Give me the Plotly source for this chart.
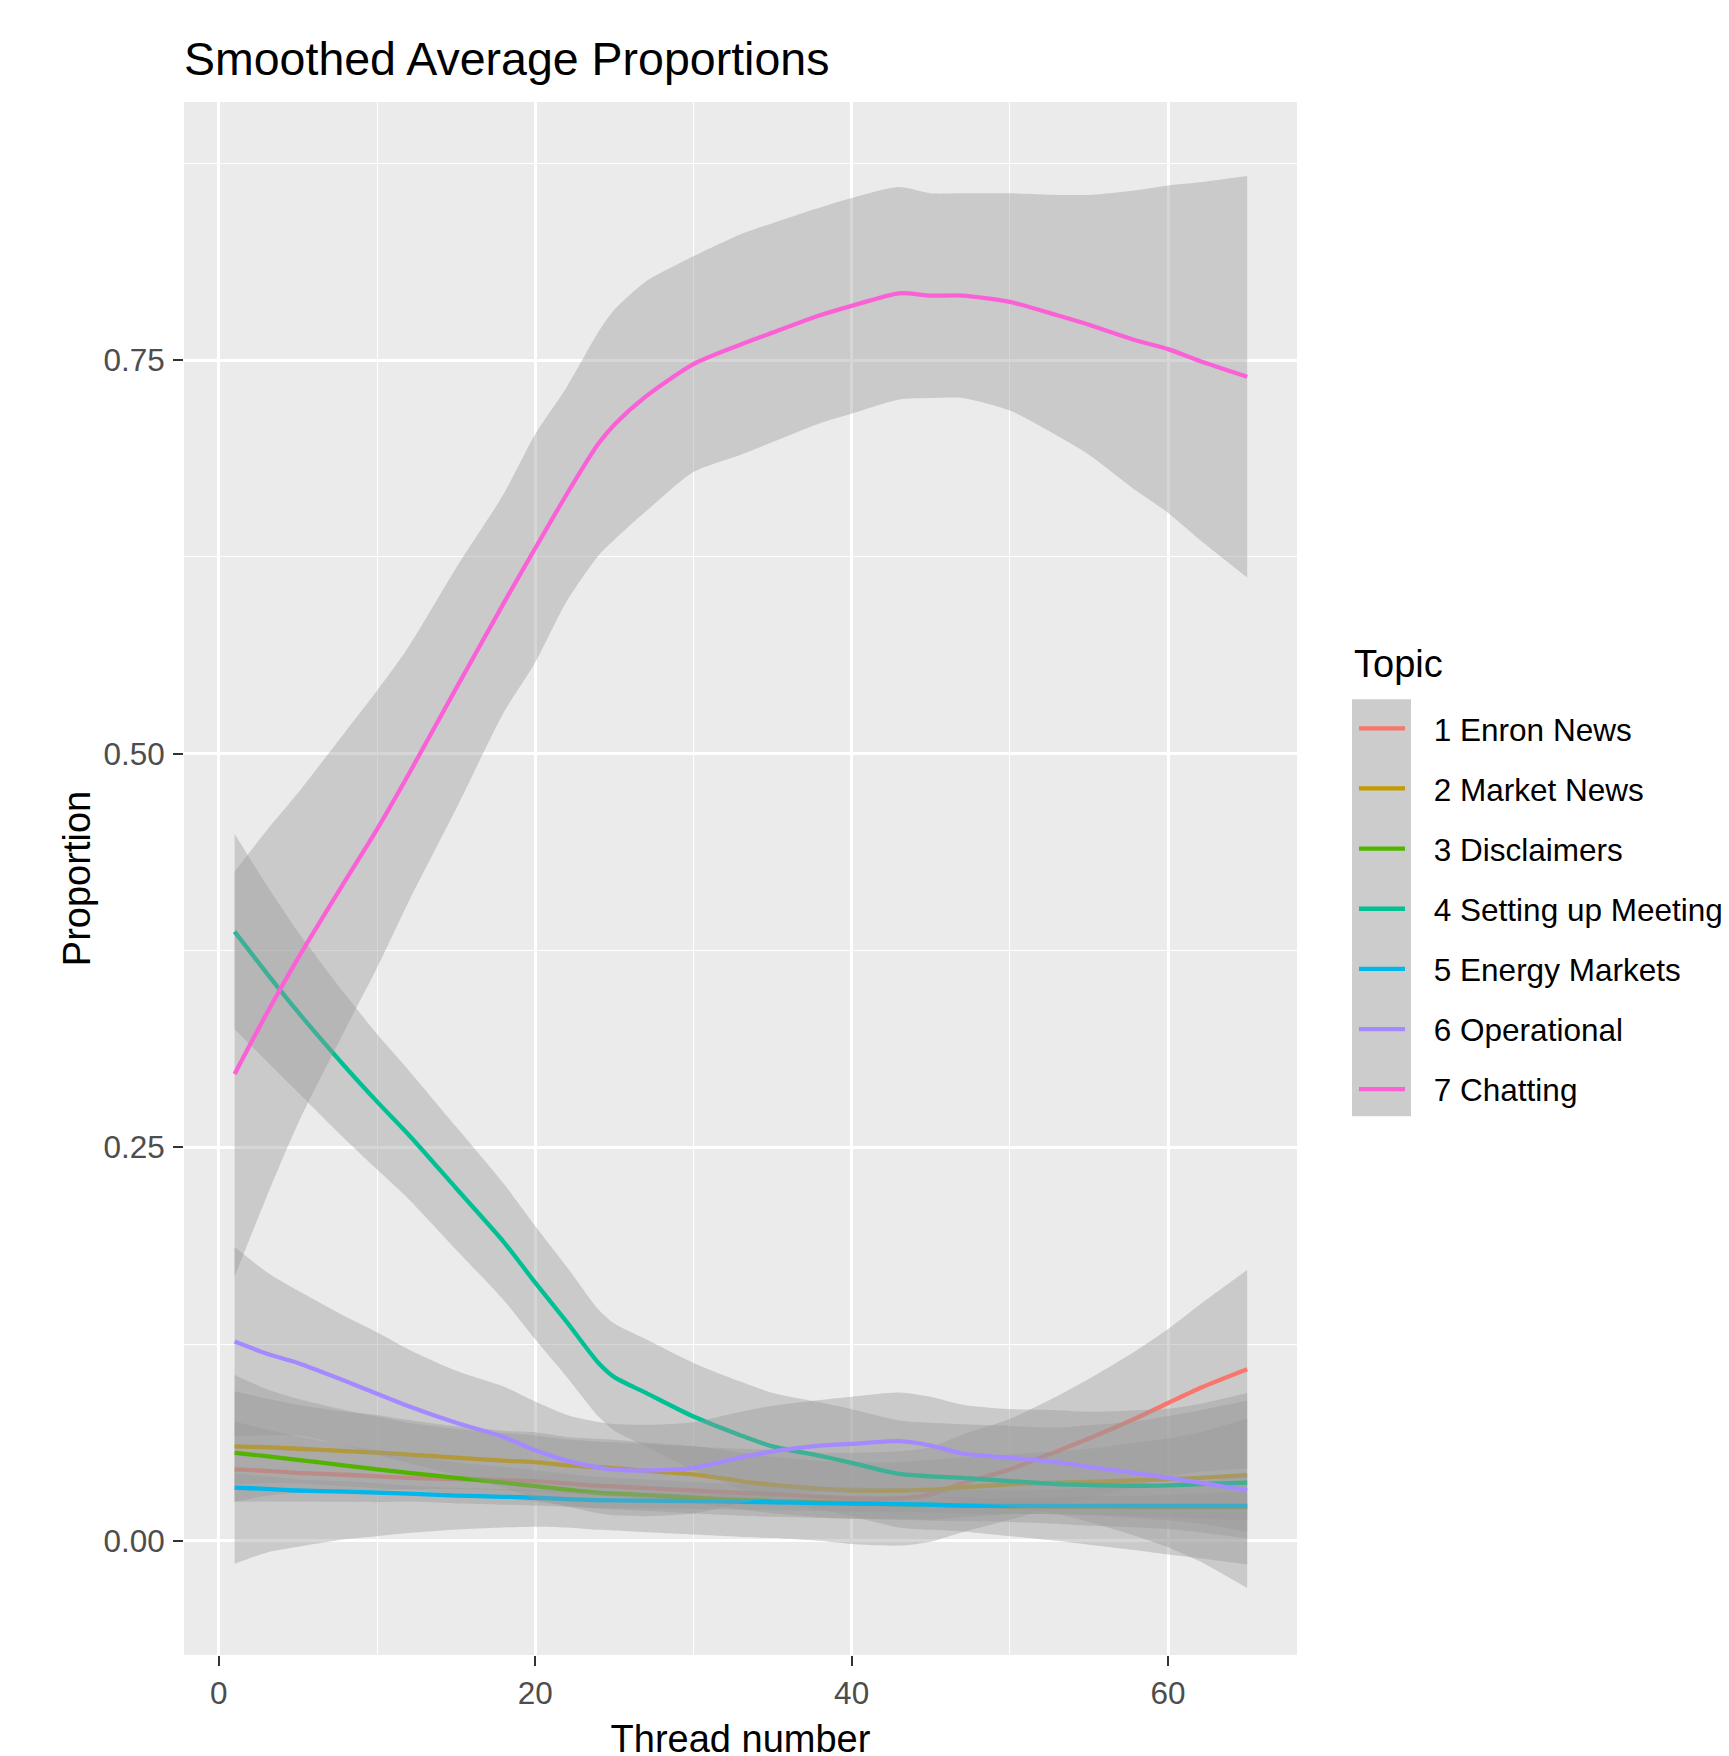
import plotly.graph_objects as go

# ---- data ----
thread = [1, 3, 5, 8, 10, 12, 15, 18, 20, 22, 24, 25, 27, 30, 33, 35, 38, 40,
          43, 45, 47, 50, 53, 55, 58, 60, 62, 65]

topics = ["1 Enron News", "2 Market News", "3 Disclaimers", "4 Setting up Meetings",
          "5 Energy Markets", "6 Operational", "7 Chatting"]
colors = ["#F8766D", "#C49A00", "#53B400", "#00C094", "#00B6EB", "#A58AFF", "#FB61D7"]

enron_fit = [0.0454, 0.0445, 0.0432, 0.042, 0.041, 0.040, 0.0392, 0.0385, 0.038, 0.0365,
             0.035, 0.0346, 0.0335, 0.032, 0.0305, 0.0298, 0.028, 0.027, 0.027, 0.0295,
             0.0365, 0.0454, 0.057, 0.065, 0.078, 0.0876, 0.097, 0.109]
enron_se = [0.060, 0.052, 0.047, 0.041, 0.038, 0.035, 0.032, 0.030, 0.029, 0.028,
            0.028, 0.028, 0.028, 0.028, 0.028, 0.028, 0.028, 0.029, 0.030, 0.030,
            0.031, 0.032, 0.035, 0.038, 0.043, 0.047, 0.053, 0.063]

market_fit = [0.060, 0.0595, 0.0585, 0.057, 0.056, 0.0548, 0.0528, 0.051, 0.050, 0.048,
              0.0468, 0.0462, 0.0445, 0.0422, 0.038, 0.0355, 0.033, 0.032, 0.032, 0.0325,
              0.034, 0.0359, 0.037, 0.0375, 0.0385, 0.039, 0.040, 0.0418]
market_se = [0.035, 0.031, 0.028, 0.025, 0.024, 0.022, 0.020, 0.019, 0.019, 0.018,
             0.018, 0.018, 0.018, 0.018, 0.018, 0.018, 0.018, 0.018, 0.018, 0.019,
             0.019, 0.019, 0.020, 0.021, 0.024, 0.026, 0.029, 0.036]

disclaim_fit = [0.0559, 0.0538, 0.0515, 0.0478, 0.0454, 0.0432, 0.040, 0.037, 0.0348, 0.0325,
                0.0305, 0.030, 0.029, 0.0274, 0.026, 0.0253, 0.0245, 0.024, 0.0232, 0.0228,
                0.0224, 0.022, 0.0218, 0.0216, 0.0215, 0.0215, 0.0215, 0.0215]
disclaim_se = [0.020, 0.017, 0.015, 0.013, 0.012, 0.011, 0.010, 0.010, 0.010, 0.010,
               0.010, 0.010, 0.010, 0.010, 0.010, 0.010, 0.010, 0.010, 0.010, 0.010,
               0.010, 0.010, 0.011, 0.012, 0.013, 0.014, 0.016, 0.020]

meetings_fit = [0.387, 0.361, 0.336, 0.301, 0.279, 0.258, 0.224, 0.190, 0.164, 0.139,
                0.113, 0.104, 0.094, 0.079, 0.067, 0.060, 0.054, 0.0496, 0.0425, 0.041,
                0.040, 0.038, 0.036, 0.0355, 0.035, 0.0353, 0.036, 0.037]
meetings_se = [0.062, 0.056, 0.051, 0.046, 0.043, 0.041, 0.039, 0.037, 0.036, 0.035,
               0.034, 0.034, 0.034, 0.034, 0.034, 0.034, 0.034, 0.034, 0.034, 0.034,
               0.034, 0.035, 0.036, 0.038, 0.041, 0.044, 0.047, 0.052]

energy_fit = [0.0338, 0.033, 0.032, 0.0313, 0.0306, 0.030, 0.0288, 0.028, 0.0274, 0.0265,
              0.0258, 0.0257, 0.0255, 0.0253, 0.0248, 0.0245, 0.024, 0.0236, 0.0233, 0.023,
              0.0224, 0.0222, 0.0222, 0.0222, 0.0222, 0.0222, 0.0222, 0.0222]
energy_se = [0.009, 0.008, 0.007, 0.0065, 0.006, 0.005, 0.005, 0.005, 0.005, 0.005,
             0.005, 0.005, 0.005, 0.005, 0.005, 0.005, 0.005, 0.005, 0.005, 0.005,
             0.005, 0.005, 0.0055, 0.006, 0.0065, 0.007, 0.008, 0.009]

operational_fit = [0.1266, 0.119, 0.113, 0.1015, 0.0935, 0.0855, 0.075, 0.066, 0.0575, 0.051,
                   0.0465, 0.0452, 0.0447, 0.0464, 0.053, 0.0568, 0.0605, 0.0616, 0.0633, 0.0605,
                   0.0555, 0.0527, 0.050, 0.047, 0.043, 0.040, 0.037, 0.032]
operational_se = [0.060, 0.052, 0.046, 0.041, 0.039, 0.036, 0.033, 0.032, 0.031, 0.029,
                  0.029, 0.029, 0.029, 0.029, 0.029, 0.029, 0.029, 0.030, 0.031, 0.031,
                  0.031, 0.031, 0.033, 0.035, 0.040, 0.044, 0.050, 0.062]

chatting_fit = [0.2965, 0.3345, 0.370, 0.4195, 0.452, 0.487, 0.5415, 0.5955, 0.6305, 0.665,
                0.697, 0.709, 0.727, 0.7475, 0.760, 0.7675, 0.7785, 0.7845, 0.7925, 0.791,
                0.791, 0.787, 0.7785, 0.7725, 0.7625, 0.757, 0.7495, 0.7395]
chatting_se = [0.1285, 0.1165, 0.105, 0.0945, 0.088, 0.081, 0.0765, 0.0695, 0.0725, 0.068,
               0.071, 0.073, 0.073, 0.0685, 0.070, 0.0695, 0.0685, 0.0685, 0.0675, 0.065,
               0.065, 0.069, 0.0765, 0.0825, 0.0955, 0.104, 0.1135, 0.1275]

fits = [enron_fit, market_fit, disclaim_fit, meetings_fit, energy_fit, operational_fit, chatting_fit]
ses = [enron_se, market_se, disclaim_se, meetings_se, energy_se, operational_se, chatting_se]

x_ticks = [0, 20, 40, 60]
y_ticks = [0.0, 0.25, 0.50, 0.75]

# ---- figure ----
FONT = "Liberation Sans, Arial, sans-serif"
RIBBON = "rgba(153,153,153,0.4)"
SMOOTH = 0.7

fig = go.Figure()
for name, col, fit, se in zip(topics, colors, fits, ses):
    lo = [f - s for f, s in zip(fit, se)]
    hi = [f + s for f, s in zip(fit, se)]
    fig.add_trace(go.Scatter(x=thread, y=lo, mode="lines",
                             line=dict(width=0, shape="spline", smoothing=SMOOTH),
                             showlegend=False, legendgroup=name, hoverinfo="skip"))
    fig.add_trace(go.Scatter(x=thread, y=hi, mode="lines",
                             line=dict(width=0, shape="spline", smoothing=SMOOTH),
                             fill="tonexty", fillcolor=RIBBON,
                             showlegend=False, legendgroup=name, hoverinfo="skip"))
    fig.add_trace(go.Scatter(x=thread, y=fit, mode="lines",
                             name="\u00a0\u00a0\u2009" + name, legendgroup=name,
                             line=dict(color=col, width=4.3, shape="spline", smoothing=SMOOTH)))

# page body has an 8px default margin: layout below is in figure pixels
W, H = 1729, 1756
ML, MR, MT, MB = 176, 440, 93.5, 109
pw, ph = W - ML - MR, H - MT - MB


def px_x(p):
    return (p - ML) / pw


def px_y(p):
    return (H - MB - p) / ph


fig.update_layout(
    width=W, height=H,
    margin=dict(l=ML, r=MR, t=MT, b=MB, autoexpand=False),
    paper_bgcolor="white",
    plot_bgcolor="#EBEBEB",
    font=dict(family=FONT, color="black"),
    title=dict(text="Smoothed Average Proportions", x=0, xref="paper", xanchor="left",
               y=1 - 51 / H, yref="container", yanchor="middle",
               font=dict(size=46.5, color="black", family=FONT)),
    xaxis=dict(range=[-2.2, 68.15], tickvals=x_ticks, ticks="outside", ticklen=10, tickwidth=2,
               tickcolor="#333333", tickfont=dict(size=31.5, color="#4D4D4D"),
               showgrid=True, gridcolor="white", gridwidth=2.6, zeroline=False, showline=False,
               minor=dict(dtick=10, tick0=0, showgrid=True, gridcolor="white", gridwidth=1.3,
                          ticks=""),
               title=dict(text="Thread number", font=dict(size=38, color="black"), standoff=15)),
    yaxis=dict(range=[-0.0725, 0.914], tickvals=y_ticks, tickformat=".2f", ticks="outside",
               ticklen=10, tickwidth=2, tickcolor="#333333",
               tickfont=dict(size=31.5, color="#4D4D4D"), ticklabelstandoff=2,
               showgrid=True, gridcolor="white", gridwidth=2.6, zeroline=False, showline=False,
               minor=dict(dtick=0.125, tick0=0, showgrid=True, gridcolor="white", gridwidth=1.3,
                          ticks=""),
               title=dict(text="Proportion", font=dict(size=38, color="black"), standoff=1)),
    legend=dict(font=dict(size=31.5, color="black"),
                x=px_x(1346), xanchor="left", y=px_y(693), yanchor="top",
                traceorder="grouped", tracegroupgap=16.2, itemwidth=46,
                bgcolor="rgba(0,0,0,0)"),
    annotations=[dict(text="Topic", xref="paper", yref="paper", x=px_x(1344), y=px_y(656),
                      xanchor="left", yanchor="middle", showarrow=False,
                      font=dict(size=38, color="black", family=FONT))],
    shapes=[dict(type="rect", xref="paper", yref="paper",
                 x0=px_x(1344), x1=px_x(1403), y0=px_y(1108), y1=px_y(691),
                 fillcolor="#CCCCCC", line=dict(width=0), layer="below")],
)

fig.write_html("out.html")
